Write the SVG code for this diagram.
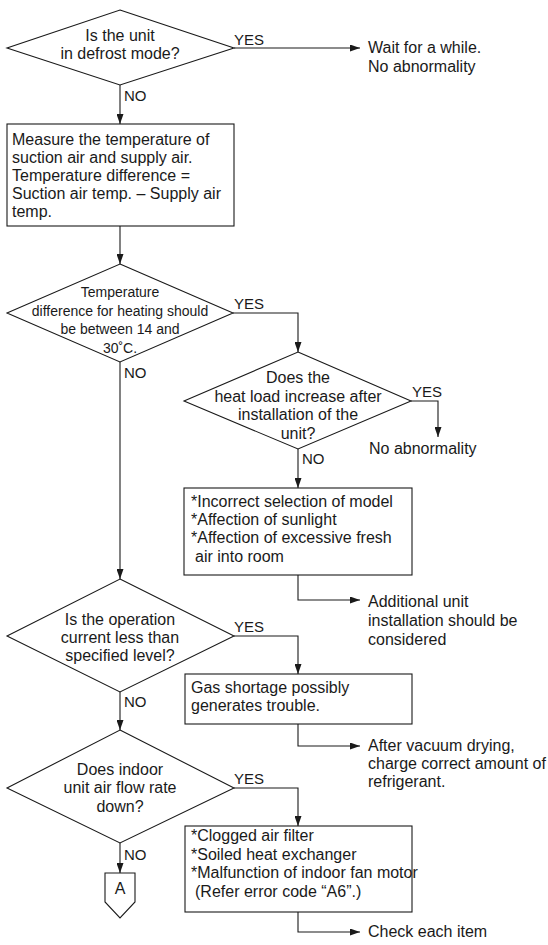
<svg xmlns="http://www.w3.org/2000/svg" width="548" height="945" viewBox="0 0 548 945">
  <style>
    text { font-family: "Liberation Sans", Arial, Helvetica, sans-serif; font-size: 16px; fill: #1a1a1a; }
    .c { text-anchor: middle; }
    .lbl { font-size: 15px; }
    .small { font-size: 14px; }
    .shape { fill: #ffffff; stroke: #1a1a1a; stroke-width: 1.1; }
    .wire { fill: none; stroke: #1a1a1a; stroke-width: 1.1; }
  </style>
  <defs>
    <marker id="arrow" markerUnits="userSpaceOnUse" markerWidth="10" markerHeight="7" refX="10" refY="3.5" orient="auto">
      <path d="M0,0 L10,3.5 L0,7 z" fill="#1a1a1a"/>
    </marker>
  </defs>
  <rect width="548" height="945" fill="#ffffff"/>

  <!-- connectors -->
  <g id="connectors">
    <path class="wire" d="M234,48 H360" marker-end="url(#arrow)"/>
    <path class="wire" d="M120,85 V124" marker-end="url(#arrow)"/>
    <path class="wire" d="M120,226 V264" marker-end="url(#arrow)"/>
    <path class="wire" d="M233,313 H298 V352" marker-end="url(#arrow)"/>
    <path class="wire" d="M120,362 V579" marker-end="url(#arrow)"/>
    <path class="wire" d="M411,401 H438 V437" marker-end="url(#arrow)"/>
    <path class="wire" d="M298,449 V488" marker-end="url(#arrow)"/>
    <path class="wire" d="M298,575 V600 H360" marker-end="url(#arrow)"/>
    <path class="wire" d="M234,636 H298 V674" marker-end="url(#arrow)"/>
    <path class="wire" d="M120,692 V730" marker-end="url(#arrow)"/>
    <path class="wire" d="M298,724 V746 H360" marker-end="url(#arrow)"/>
    <path class="wire" d="M234,788 H298 V826" marker-end="url(#arrow)"/>
    <path class="wire" d="M120,843 V873" marker-end="url(#arrow)"/>
    <path class="wire" d="M298,912 V932 H360" marker-end="url(#arrow)"/>

    <text class="lbl" x="234" y="45">YES</text>
    <text class="lbl" x="124" y="101">NO</text>
    <text class="lbl" x="234" y="309">YES</text>
    <text class="lbl" x="124" y="378">NO</text>
    <text class="lbl" x="412" y="397">YES</text>
    <text class="lbl" x="302" y="464">NO</text>
    <text class="lbl" x="234" y="632">YES</text>
    <text class="lbl" x="124" y="707">NO</text>
    <text class="lbl" x="234" y="784">YES</text>
    <text class="lbl" x="124" y="860">NO</text>
  </g>

  <!-- decision: defrost mode -->
  <g id="q-defrost">
    <polygon class="shape" points="120,10 234,48 120,85 7,48"/>
    <text class="c" x="120" y="41">Is the unit</text>
    <text class="c" x="120" y="59">in defrost mode?</text>
  </g>

  <g id="r-wait">
    <text x="368" y="53">Wait for a while.</text>
    <text x="368" y="72">No abnormality</text>
  </g>

  <!-- process: temperature measurement -->
  <g id="p-measure">
    <rect class="shape" x="7" y="124" width="227" height="102"/>
    <text x="12" y="145">Measure the temperature of</text>
    <text x="12" y="163">suction air and supply air.</text>
    <text x="12" y="181">Temperature difference =</text>
    <text x="12" y="199">Suction air temp. – Supply air</text>
    <text x="12" y="217">temp.</text>
  </g>

  <!-- decision: temperature difference range -->
  <g id="q-range">
    <polygon class="shape" points="120,264 233,313 120,362 7,313"/>
    <text class="c small" x="120" y="297">Temperature</text>
    <text class="c small" x="120" y="316">difference for heating should</text>
    <text class="c small" x="120" y="334">be between 14 and</text>
    <text class="c small" x="120" y="353">30˚C.</text>
  </g>

  <!-- decision: heat load -->
  <g id="q-heatload">
    <polygon class="shape" points="298,352 411,401 298,449 184,401"/>
    <text class="c" x="298" y="383">Does the</text>
    <text class="c" x="298" y="401.5">heat load increase after</text>
    <text class="c" x="298" y="420">installation of the</text>
    <text class="c" x="298" y="438.5">unit?</text>
  </g>

  <g id="r-no-abnormality">
    <text x="369" y="454">No abnormality</text>
  </g>

  <!-- process: selection causes -->
  <g id="p-selection">
    <rect class="shape" x="184" y="488" width="228" height="87"/>
    <text x="191" y="507">*Incorrect selection of model</text>
    <text x="191" y="525">*Affection of sunlight</text>
    <text x="191" y="543">*Affection of excessive fresh</text>
    <text x="195" y="562">air into room</text>
  </g>

  <g id="r-additional">
    <text x="368" y="607">Additional unit</text>
    <text x="368" y="626">installation should be</text>
    <text x="368" y="645">considered</text>
  </g>

  <!-- decision: operation current -->
  <g id="q-current">
    <polygon class="shape" points="120,579 234,636 120,692 7,636"/>
    <text class="c" x="120" y="625">Is the operation</text>
    <text class="c" x="120" y="643">current less than</text>
    <text class="c" x="120" y="661">specified level?</text>
  </g>

  <!-- process: gas shortage -->
  <g id="p-gas">
    <rect class="shape" x="185" y="674" width="227" height="50"/>
    <text x="191" y="693">Gas shortage possibly</text>
    <text x="191" y="711">generates trouble.</text>
  </g>

  <g id="r-vacuum">
    <text x="368" y="751">After vacuum drying,</text>
    <text x="368" y="769">charge correct amount of</text>
    <text x="368" y="787">refrigerant.</text>
  </g>

  <!-- decision: air flow -->
  <g id="q-airflow">
    <polygon class="shape" points="120,730 234,788 120,843 7,788"/>
    <text class="c" x="120" y="775">Does indoor</text>
    <text class="c" x="120" y="793">unit air flow rate</text>
    <text class="c" x="120" y="812">down?</text>
  </g>

  <!-- process: air flow causes -->
  <g id="p-airflow">
    <rect class="shape" x="185" y="826" width="227" height="86"/>
    <text x="191" y="841">*Clogged air filter</text>
    <text x="191" y="860">*Soiled heat exchanger</text>
    <text x="191" y="878">*Malfunction of indoor fan motor</text>
    <text x="195" y="897">(Refer error code “A6”.)</text>
  </g>

  <g id="r-check">
    <text x="368" y="937">Check each item</text>
  </g>

  <!-- off-page connector A -->
  <g id="conn-a">
    <polygon class="shape" points="105,873 135,873 135,902 120,918 105,902"/>
    <text class="c" x="120" y="894">A</text>
  </g>
</svg>
